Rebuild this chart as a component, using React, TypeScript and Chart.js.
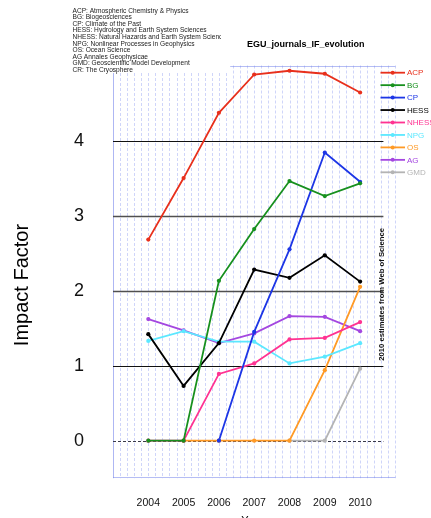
import { useEffect, useRef } from 'react';
import { Chart, registerables } from 'chart.js';

Chart.register(...registerables);

const years = [2004, 2005, 2006, 2007, 2008, 2009, 2010];
const seriesNames = ['ACP', 'BG', 'CP', 'HESS', 'NHESS', 'NPG', 'OS', 'AG', 'GMD'];
const seriesColors = ['#e8301c', '#17901e', '#1d36e6', '#000000', '#ff3392', '#5ce8ff', '#ff9a26', '#a447e0', '#b4b4b4'];

const acp = [2.68, 3.5, 4.37, 4.88, 4.93, 4.89, 4.64];
const bg = [0, 0, 2.13, 2.82, 3.46, 3.26, 3.43];
const cp = [null, null, 0, 1.45, 2.55, 3.84, 3.45];
const hess = [1.42, 0.73, 1.3, 2.28, 2.17, 2.47, 2.12];
const nhess = [0, 0, 0.89, 1.03, 1.35, 1.37, 1.58];
const npg = [1.33, 1.46, 1.32, 1.32, 1.03, 1.12, 1.3];
const os = [null, 0, 0, 0, 0, 0.94, 2.05];
const ag = [1.62, 1.47, 1.3, 1.43, 1.66, 1.65, 1.46];
const gmd = [null, null, null, null, 0, 0, 0.96];

const seriesValues = [acp, bg, cp, hess, nhess, npg, os, ag, gmd];

const yTicks = [0, 1, 2, 3, 4];
const xTicks = years;

const noteLines = [
  'ACP: Atmospheric Chemistry & Physics',
  'BG: Biogeosciences',
  'CP: Climate of the Past',
  'HESS: Hydrology and Earth System Sciences',
  'NHESS: Natural Hazards and Earth System Sciences',
  'NPG: Nonlinear Processes in Geophysics',
  'OS: Ocean Science',
  'AG Annales Geophysicae',
  'GMD: Geoscientific Model Development',
  'CR: The Cryosphere',
];

const titleText = 'EGU_journals_IF_evolution';
const noteText = '2010 estimates from Web of Science';
const yTitle = 'Impact Factor';
const xTitle = 'Years';

const X_MIN = 2003;
const X_MAX = 2011;
const Y_MIN = -0.5;
const Y_MAX = 5;
const FONT = '"Liberation Sans", Arial, sans-serif';

const decor = {
  id: 'decor',
  beforeDraw(chart: any) {
    const ctx = chart.ctx;
    ctx.save();
    ctx.fillStyle = '#ffffff';
    ctx.fillRect(0, 0, chart.width, chart.height);
    ctx.restore();
  },
  beforeDatasetsDraw(chart: any) {
    const { ctx } = chart;
    const x = chart.scales.x;
    const y = chart.scales.y;
    const topFull = y.getPixelForValue(Y_MAX);
    const topLeft = y.getPixelForValue(4.9);
    const bottom = y.getPixelForValue(Y_MIN);
    const split = x.getPixelForValue(2006.32);
    ctx.save();
    // vertical dashed grid
    ctx.lineWidth = 1;
    for (let i = 0; i <= 40; i++) {
      const v = X_MIN + i * 0.2;
      const px = Math.round(x.getPixelForValue(v)) + 0.5;
      const t = px < split ? topLeft : topFull;
      ctx.strokeStyle = i === 0 ? 'rgba(120,135,235,0.6)' : 'rgba(130,145,240,0.38)';
      ctx.setLineDash(i === 0 ? [] : [3, 2]);
      ctx.beginPath();
      ctx.moveTo(px, t);
      ctx.lineTo(px, bottom);
      ctx.stroke();
    }
    ctx.setLineDash([]);
    ctx.strokeStyle = 'rgba(120,135,235,0.55)';
    ctx.beginPath();
    ctx.moveTo(split, Math.round(topFull) + 0.5);
    ctx.lineTo(x.getPixelForValue(X_MAX), Math.round(topFull) + 0.5);
    ctx.moveTo(x.getPixelForValue(X_MIN), Math.round(bottom) - 0.5);
    ctx.lineTo(x.getPixelForValue(X_MAX), Math.round(bottom) - 0.5);
    ctx.stroke();
    // horizontal lines
    const hEnd = x.getPixelForValue(2010.66);
    yTicks.forEach((v) => {
      const py = Math.round(y.getPixelForValue(v)) + 0.5;
      ctx.beginPath();
      if (v === 0) {
        ctx.setLineDash([3, 2]);
        ctx.strokeStyle = '#3a3a4a';
        ctx.lineWidth = 1.2;
      } else {
        ctx.setLineDash([]);
        ctx.strokeStyle = v === 2 || v === 3 ? '#505050' : '#111111';
        ctx.lineWidth = v === 2 || v === 3 ? 1.6 : 1.2;
      }
      ctx.moveTo(x.getPixelForValue(X_MIN), py);
      ctx.lineTo(hEnd, py);
      ctx.stroke();
    });
    ctx.restore();
  },
  afterDatasetsDraw(chart: any) {
    const { ctx } = chart;
    const x = chart.scales.x;
    const y = chart.scales.y;
    ctx.save();
    ctx.translate(x.getPixelForValue(2010.63), y.getPixelForValue(1.95));
    ctx.rotate(-Math.PI / 2);
    ctx.fillStyle = '#111';
    ctx.font = `bold 7.7px ${FONT}`;
    ctx.textAlign = 'center';
    ctx.textBaseline = 'middle';
    ctx.fillText(noteText, 0, 0);
    ctx.restore();
  },
  afterDraw(chart: any) {
    const { ctx } = chart;
    ctx.save();
    // note block
    ctx.beginPath();
    ctx.rect(0, 0, 221, 80);
    ctx.clip();
    ctx.fillStyle = '#222';
    ctx.font = `6.6px ${FONT}`;
    ctx.textAlign = 'left';
    ctx.textBaseline = 'middle';
    noteLines.forEach((t, i) => ctx.fillText(t, 72.5, 11 + i * 6.55));
    ctx.restore();

    ctx.save();
    // title
    ctx.fillStyle = '#000';
    ctx.font = `bold 9px ${FONT}`;
    ctx.textAlign = 'left';
    ctx.textBaseline = 'middle';
    ctx.fillText(titleText, 247, 45);
    // y title
    ctx.save();
    ctx.translate(22, 285);
    ctx.rotate(-Math.PI / 2);
    ctx.font = `20px ${FONT}`;
    ctx.textAlign = 'center';
    ctx.fillText(yTitle, 0, 0);
    ctx.restore();
    // x title (mostly cut off)
    ctx.font = `11px ${FONT}`;
    ctx.textAlign = 'center';
    ctx.textBaseline = 'top';
    ctx.fillText(xTitle, 255, 515.5);
    // legend
    ctx.font = `8px ${FONT}`;
    seriesNames.forEach((name, i) => {
      const cy = 72.7 + i * 12.45;
      const col = seriesColors[i];
      ctx.strokeStyle = col;
      ctx.fillStyle = col;
      ctx.lineWidth = 1.8;
      ctx.beginPath();
      ctx.moveTo(380.5, cy);
      ctx.lineTo(405, cy);
      ctx.stroke();
      ctx.beginPath();
      ctx.arc(392.7, cy, 2, 0, Math.PI * 2);
      ctx.fill();
      ctx.textBaseline = 'middle';
      ctx.textAlign = 'left';
      ctx.fillText(name, 407, cy + 0.5);
    });
    ctx.restore();
  },
};

export default function App() {
  const ref = useRef<HTMLCanvasElement | null>(null);
  useEffect(() => {
    if (!ref.current) return;
    const chart = new Chart(ref.current, {
      type: 'line',
      data: {
        datasets: seriesNames.map((name, i) => ({
          label: name,
          data: years.map((yr, j) => ({ x: yr, y: seriesValues[i][j] })),
          borderColor: seriesColors[i],
          backgroundColor: seriesColors[i],
          pointBackgroundColor: seriesColors[i],
          pointBorderColor: seriesColors[i],
          borderWidth: 1.8,
          pointRadius: 2.1,
          pointBorderWidth: 0,
          tension: 0,
          spanGaps: false,
          fill: false,
        })),
      },
      options: {
        responsive: false,
        animation: false,
        devicePixelRatio: 1,
        events: [],
        layout: { padding: { top: 65.5, right: 35.6, left: 0, bottom: 0 } },
        plugins: {
          legend: { display: false },
          tooltip: { enabled: false },
          title: { display: false },
        },
        scales: {
          x: {
            type: 'linear',
            min: X_MIN,
            max: X_MAX,
            grid: { display: false },
            border: { display: false },
            afterFit: (s: any) => {
              s.height = 38.4;
            },
            afterBuildTicks: (s: any) => {
              s.ticks = xTicks.map((v) => ({ value: v }));
            },
            ticks: {
              autoSkip: false,
              maxRotation: 0,
              padding: 11,
              color: '#111',
              font: { family: FONT, size: 10.5 },
              callback: (v: any) => String(v),
            },
          },
          y: {
            type: 'linear',
            min: Y_MIN,
            max: Y_MAX,
            grid: { display: false, drawTicks: false },
            border: { display: false },
            afterFit: (s: any) => {
              s.width = 113;
            },
            afterBuildTicks: (s: any) => {
              s.ticks = yTicks.map((v) => ({ value: v }));
            },
            ticks: {
              padding: 29,
              color: '#111',
              font: { family: FONT, size: 18 },
              callback: (v: any) => String(v),
            },
          },
        },
      },
      plugins: [decor],
    });
    return () => chart.destroy();
  }, []);
  return (
    <div style={{ position: 'absolute', left: 0, top: 0, width: 431, height: 518 }}>
      <canvas ref={ref} width={431} height={518} style={{ width: 431, height: 518, display: 'block' }} />
    </div>
  );
}
